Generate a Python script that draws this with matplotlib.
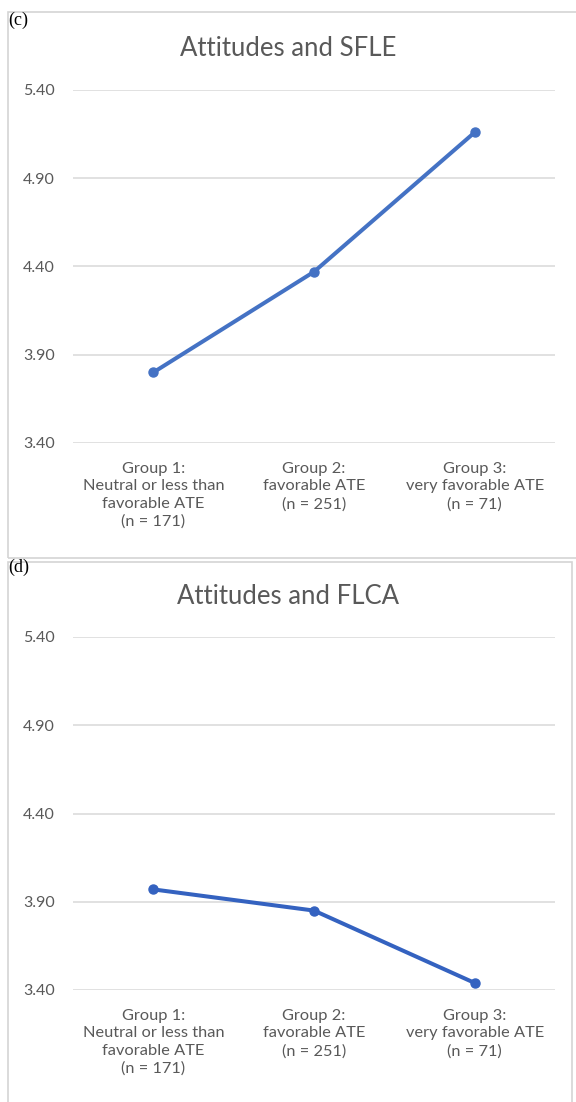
import matplotlib
matplotlib.use("Agg")
import matplotlib.pyplot as plt
from matplotlib.patches import Rectangle

categories = ["Group 1:\nNeutral or less than\nfavorable ATE\n(n = 171)",
              "Group 2:\nfavorable ATE\n(n = 251)",
              "Group 3:\nvery favorable ATE\n(n = 71)"]
sfle = [3.80, 4.37, 5.16]
flca = [3.97, 3.85, 3.44]
yticks = [3.40, 3.90, 4.40, 4.90, 5.40]
panels = [("(c)", "Attitudes and SFLE", sfle, "#4472C4"),
          ("(d)", "Attitudes and FLCA", flca, "#3462C0")]

W, H = 576, 1102
fig = plt.figure(figsize=(W / 100, H / 100), dpi=100)
TXT = "#595959"
FONT = ["Lato", "DejaVu Sans"]

# panel frames (pixel coords -> figure fractions)
fig.patches.append(Rectangle((8 / W, 1 - 558 / H), 1.0, (558 - 12) / H, transform=fig.transFigure,
                             fill=False, edgecolor="#D4D4D4", lw=1.2))
fig.patches.append(Rectangle((8 / W, -0.01), (572 - 8) / W, 0.01 + (H - 562) / H, transform=fig.transFigure,
                             fill=False, edgecolor="#D4D4D4", lw=1.2))

tops = [90, 637]
title_y = [49, 597]
for (lab, title, vals, col), top, ty in zip(panels, tops, title_y):
    bottom = top + 353
    ax = fig.add_axes([73 / W, 1 - bottom / H, 482 / W, 353 / H])
    x = range(len(categories))
    ax.plot(x, vals, color=col, lw=2.9, marker="o", ms=6.5, solid_capstyle="round", zorder=3, clip_on=False)
    ax.set_xlim(-0.5, len(categories) - 0.5)
    ax.set_ylim(yticks[0], yticks[-1])
    ax.set_yticks(yticks)
    ax.set_yticklabels([f"{v:.2f}" for v in yticks], color=TXT, fontsize=11.5, family=FONT)
    ax.set_xticks(list(x))
    ax.set_xticklabels(categories, color=TXT, fontsize=11.8, family=FONT, linespacing=1.33)
    ax.tick_params(length=0, axis="y", pad=13)
    ax.tick_params(length=0, axis="x", pad=13.5)
    ax.grid(axis="y", color="#D9D9D9", lw=1.1)
    ax.set_axisbelow(True)
    for s in ax.spines.values():
        s.set_visible(False)
    fig.text(288 / W, 1 - ty / H, title, ha="center", va="center", color=TXT,
             fontsize=18.5, family=FONT)
    fig.text(8 / W, 1 - (top - 78) / H, lab, ha="left", va="top", color="black",
             fontsize=13, family=["Liberation Serif", "DejaVu Serif"])

fig.savefig("out.png", dpi=100)
